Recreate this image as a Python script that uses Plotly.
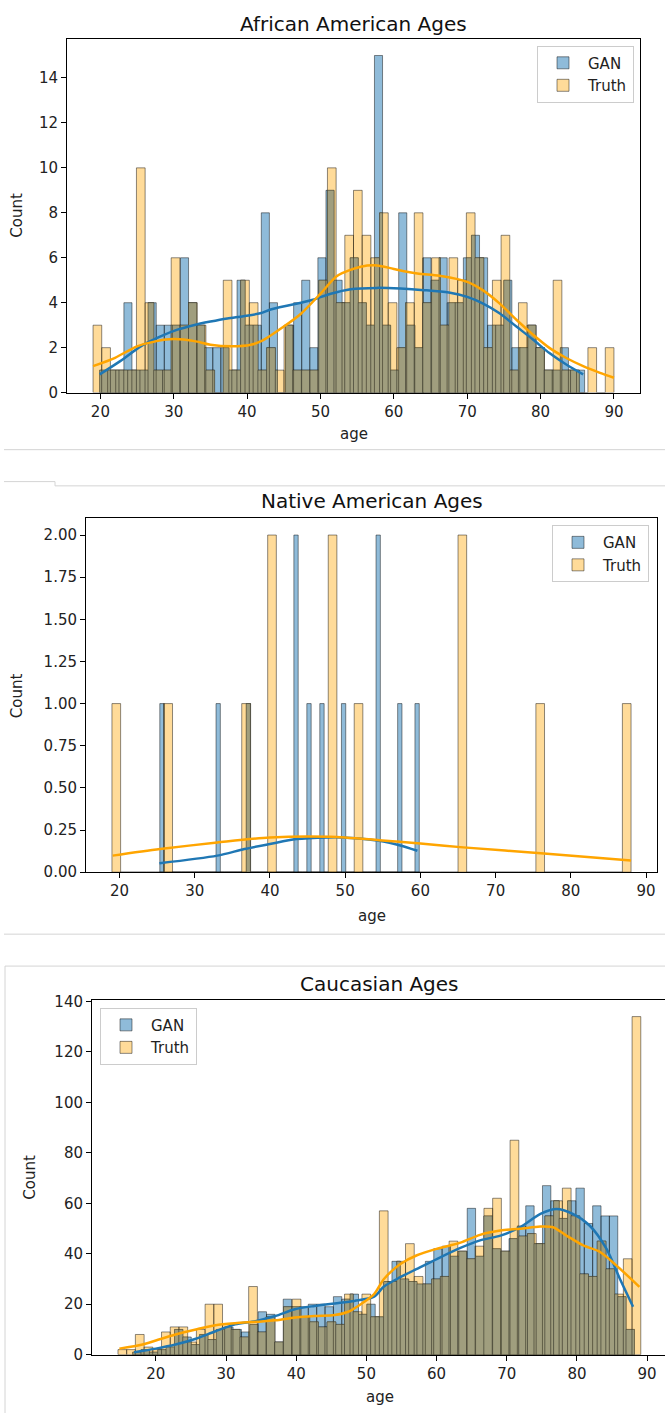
import numpy as np
import plotly.graph_objects as go

W, H = 665, 1422

# ---------------- data ----------------
# Panel 1: African American
aa_truth_range = (19.0, 90.0)
aa_truth_counts = [3, 2, 1, 1, 1, 10, 4, 1, 1, 6,
                   3, 4, 3, 1, 0, 5, 1, 5, 4, 1,
                   2, 1, 3, 1, 1, 1, 5, 10, 4, 7,
                   9, 7, 6, 8, 4, 2, 4, 8, 4, 6,
                   3, 6, 5, 8, 6, 2, 5, 7, 1, 4,
                   3, 2, 1, 5, 1, 1, 0, 2, 0, 2]
aa_gan_range = (19.9, 86.0)
aa_gan_counts = [1, 1, 1, 4, 1, 1, 4, 3, 3, 3,
                 6, 4, 3, 2, 2, 2, 1, 5, 3, 3,
                 8, 4, 0, 3, 4, 5, 2, 6, 9, 5,
                 4, 6, 4, 3, 15, 3, 1, 8, 3, 2,
                 6, 5, 6, 4, 4, 6, 7, 6, 3, 3,
                 5, 2, 2, 3, 2, 1, 1, 2, 1, 1]
aa_kde_truth_age = [19, 22, 25, 27.5, 30, 33, 35, 38, 40.5, 42, 45, 47.3, 50, 52.3, 55.5,
                    57.7, 60, 63.2, 66.2, 70, 72.1, 74.4, 76.7, 79, 81.2, 83.5, 85.8, 88.1, 90]
aa_kde_truth = [1.18, 1.55, 2.06, 2.28, 2.38, 2.28, 2.13, 2.06, 2.13, 2.3, 2.94, 3.5, 4.4, 5.2, 5.6,
                5.66, 5.5, 5.3, 5.2, 4.93, 4.56, 3.97, 3.24, 2.57, 1.99, 1.54, 1.18, 0.88, 0.66]
aa_kde_gan_age = [19.9, 22.7, 25.5, 28.2, 30.5, 32.7, 35, 37.3, 39.5, 41.8, 43.2, 45.9, 48.6, 51.4,
                  54.1, 57.7, 60.9, 64.1, 67.5, 70, 72.1, 74.4, 76.7, 79, 81.2, 83.5, 85.8]
aa_kde_gan = [0.81, 1.4, 2.06, 2.5, 2.8, 3.0, 3.16, 3.3, 3.4, 3.53, 3.7, 3.9, 4.1, 4.4,
              4.6, 4.66, 4.63, 4.56, 4.45, 4.26, 3.97, 3.53, 2.94, 2.35, 1.76, 1.25, 0.81]

# Panel 2: Native American
na_truth_range = (19.0, 88.0)
na_truth_counts = [1, 0, 0, 0, 0, 0, 1, 0, 0, 0,
                   0, 0, 0, 0, 0, 1, 0, 0, 2, 0,
                   0, 0, 0, 0, 0, 2, 0, 0, 1, 0,
                   0, 0, 0, 0, 0, 0, 0, 0, 0, 0,
                   2, 0, 0, 0, 0, 0, 0, 0, 0, 1,
                   0, 0, 0, 0, 0, 0, 0, 0, 0, 1]
na_gan_range = (25.36, 59.85)
na_gan_counts = [1, 0, 0, 0, 0, 0, 0, 0, 0, 0,
                 0, 0, 0, 1, 0, 0, 0, 0, 0, 0,
                 1, 0, 0, 0, 0, 0, 0, 0, 0, 0,
                 0, 2, 0, 0, 1, 0, 0, 1, 0, 0,
                 0, 0, 1, 0, 0, 0, 0, 0, 0, 0,
                 2, 0, 0, 0, 0, 1, 0, 0, 0, 1]
na_kde_truth_age = [19.1, 25.4, 33, 40, 48, 54.5, 60, 65.7, 76, 88]
na_kde_truth = [0.098, 0.137, 0.176, 0.206, 0.21, 0.19, 0.17, 0.147, 0.112, 0.069]
na_kde_gan_age = [25.3, 33, 36.6, 40, 43.5, 47.7, 49.4, 54.5, 57.2, 59.6]
na_kde_gan = [0.053, 0.098, 0.137, 0.167, 0.196, 0.206, 0.206, 0.186, 0.16, 0.127]

# Panel 3: Caucasian
ca_truth_range = (14.6, 89.1)
ca_truth_counts = [2, 2, 8, 3, 2, 9, 11, 11, 5, 10,
                   20, 20, 12, 10, 7, 27, 9, 15, 5, 19,
                   22, 15, 13, 11, 13, 12, 24, 17, 24, 15,
                   57, 29, 37, 44, 31, 28, 30, 31, 45, 41,
                   38, 43, 58, 62, 41, 85, 47, 48, 44, 55,
                   61, 66, 55, 32, 31, 45, 34, 24, 38, 134]
ca_gan_range = (16.7, 88.2)
ca_gan_counts = [1, 2, 1, 2, 3, 10, 7, 4, 8, 6,
                 10, 11, 10, 9, 12, 17, 16, 5, 22, 19,
                 19, 20, 20, 19, 23, 22, 24, 16, 20, 15,
                 29, 37, 30, 29, 28, 37, 42, 43, 39, 41,
                 58, 39, 55, 42, 41, 46, 51, 59, 44, 67,
                 61, 54, 61, 66, 52, 59, 55, 55, 23, 10]
ca_kde_truth_age = [14.8, 18.1, 20, 22.8, 25.7, 28.5, 31.3, 34.2, 37, 39.8, 42.6, 45.5, 47.4, 49.2,
                    51.1, 52.5, 54.9, 57.2, 60.1, 63.4, 66.2, 69.1, 71.9, 74.8, 76.6, 78.5, 80.9,
                    83.3, 85.6, 88.9]
ca_kde_truth = [2.4, 4, 5.6, 8, 10, 11.7, 12.5, 13, 13.6, 14.7, 15.3, 15.7, 17, 20,
                24, 30, 36, 39.4, 42, 44.4, 47.5, 49.2, 49.9, 50.8, 50.5, 47.2, 43.3,
                40.7, 35.4, 26.9]
ca_kde_gan_age = [16.9, 20, 22.8, 25.7, 28.5, 31.3, 34.2, 37, 39.8, 42.6, 45.5, 48.3, 51.1, 52.5,
                  54.9, 57.2, 60.1, 63.4, 66.2, 69.1, 71.9, 74.8, 77.1, 79.4, 81.8, 84.2, 86.1, 88]
ca_kde_gan = [1, 2.4, 4, 6.3, 9.3, 12, 13.3, 15.3, 18, 19.3, 20.3, 21.3, 23, 27,
              30.8, 34, 38, 42.3, 45.3, 47.2, 50.5, 55.8, 57.7, 55.8, 51.2, 42, 30.2, 19]

titles = ["African American Ages", "Native American Ages", "Caucasian Ages"]

# ---------------- styling ----------------
FONT = "DejaVu Sans"
GAN_FILL = "rgba(31,119,180,0.5)"
TRUTH_FILL = "rgba(255,165,0,0.4)"
OVER_FILL = "rgb(160,158,126)"
OVER_EDGE = "rgba(55,55,45,0.45)"
EDGE = "rgba(0,0,0,0.45)"
GAN_LINE = "#1f77b4"
TRUTH_LINE = "#ffa500"


def py(p):
    return 1 - p / H


def px(p):
    return p / W


panels = [
    dict(truth_rng=aa_truth_range, truth=aa_truth_counts, gan_rng=aa_gan_range, gan=aa_gan_counts,
         kt=(aa_kde_truth_age, aa_kde_truth), kg=(aa_kde_gan_age, aa_kde_gan),
         xpx=(67, 640), ypx=(32, 390), xr=(15.45, 93.55), yr=(0, 15.75),
         ytick=list(range(0, 15, 2)), yfmt="d", mirror_y=True),
    dict(truth_rng=na_truth_range, truth=na_truth_counts, gan_rng=na_gan_range, gan=na_gan_counts,
         kt=(na_kde_truth_age, na_kde_truth), kg=(na_kde_gan_age, na_kde_gan),
         xpx=(86, 657), ypx=(517, 875), xr=(15.55, 91.45), yr=(0, 2.1),
         ytick=[0, 0.25, 0.5, 0.75, 1.0, 1.25, 1.5, 1.75, 2.0], yfmt=".2f", mirror_y=True),
    dict(truth_rng=ca_truth_range, truth=ca_truth_counts, gan_rng=ca_gan_range, gan=ca_gan_counts,
         kt=(ca_kde_truth_age, ca_kde_truth), kg=(ca_kde_gan_age, ca_kde_gan),
         xpx=(92, 665), ypx=(1004, 1363), xr=(10.9, 92.55), yr=(0, 140.7),
         ytick=list(range(0, 141, 20)), yfmt="d", mirror_y=False),
]

legend_cfg = [
    dict(x=px(634), y=py(39), xanchor="right", yanchor="top"),
    dict(x=px(649), y=py(524), xanchor="right", yanchor="top"),
    dict(x=px(100), y=py(1012), xanchor="left", yanchor="top"),
]

fig = go.Figure()
layout = dict(width=W, height=H, margin=dict(l=0, r=0, t=0, b=0),
              paper_bgcolor="white", plot_bgcolor="white", barmode="overlay",
              font=dict(family=FONT, size=15, color="#222"))

annotations = []
shapes = []

for k, p in enumerate(panels):
    sfx = "" if k == 0 else str(k + 1)
    xa, ya = "x" + sfx, "y" + sfx
    leg = "legend" + sfx

    t_edges = np.linspace(p["truth_rng"][0], p["truth_rng"][1], len(p["truth"]) + 1)
    g_edges = np.linspace(p["gan_rng"][0], p["gan_rng"][1], len(p["gan"]) + 1)
    t_c = np.array(p["truth"], float)
    g_c = np.array(p["gan"], float)

    fig.add_trace(go.Bar(x=(g_edges[:-1] + g_edges[1:]) / 2, y=g_c, width=np.diff(g_edges),
                         marker=dict(color=GAN_FILL, line=dict(color=EDGE, width=1)),
                         name="GAN", legend=leg, xaxis=xa, yaxis=ya, showlegend=True))
    fig.add_trace(go.Bar(x=(t_edges[:-1] + t_edges[1:]) / 2, y=t_c, width=np.diff(t_edges),
                         marker=dict(color=TRUTH_FILL, line=dict(color=EDGE, width=1)),
                         name="Truth", legend=leg, xaxis=xa, yaxis=ya, showlegend=True))
    # overlap of both histograms
    ox, oy, ow = [], [], []
    for i in range(len(g_c)):
        for j in range(len(t_c)):
            lo = max(g_edges[i], t_edges[j])
            hi = min(g_edges[i + 1], t_edges[j + 1])
            h = min(g_c[i], t_c[j])
            if hi > lo and h > 0:
                ox.append((lo + hi) / 2)
                ow.append(hi - lo)
                oy.append(h)
    fig.add_trace(go.Bar(x=ox, y=oy, width=ow,
                         marker=dict(color=OVER_FILL, line=dict(color=OVER_EDGE, width=1)),
                         showlegend=False, xaxis=xa, yaxis=ya, hoverinfo="skip"))
    fig.add_trace(go.Scatter(x=p["kg"][0], y=p["kg"][1], mode="lines",
                             line=dict(color=GAN_LINE, width=2.5, shape="spline", smoothing=0.8),
                             showlegend=False, xaxis=xa, yaxis=ya))
    fig.add_trace(go.Scatter(x=p["kt"][0], y=p["kt"][1], mode="lines",
                             line=dict(color=TRUTH_LINE, width=2.5, shape="spline", smoothing=0.8),
                             showlegend=False, xaxis=xa, yaxis=ya))

    x0, x1 = p["xpx"]
    y0, y1 = p["ypx"]
    layout["xaxis" + sfx] = dict(domain=[px(x0), min(px(x1), 1.0)], anchor=ya, range=list(p["xr"]),
                                 tickvals=list(range(20, 91, 10)), showgrid=False, zeroline=False,
                                 showline=True, linecolor="black", linewidth=1, mirror=True,
                                 ticks="outside", ticklen=5, tickcolor="black",
                                 ticklabeloverflow="allow",
                                 tickfont=dict(family=FONT, size=15, color="#222"))
    layout["yaxis" + sfx] = dict(domain=[py(y1), py(y0)], anchor=xa, range=list(p["yr"]),
                                 tickvals=p["ytick"], tickformat=p["yfmt"], showgrid=False,
                                 zeroline=False, showline=True, linecolor="black", linewidth=1,
                                 mirror=p["mirror_y"], ticks="outside", ticklen=5, tickcolor="black",
                                 tickfont=dict(family=FONT, size=15, color="#222"))
    lc = legend_cfg[k]
    layout[leg] = dict(x=lc["x"], y=lc["y"], xanchor=lc["xanchor"], yanchor=lc["yanchor"],
                       bgcolor="rgba(255,255,255,0.8)", bordercolor="#cccccc", borderwidth=1,
                       font=dict(family=FONT, size=15, color="#222"), traceorder="normal",
                       itemwidth=40)

title_pos = [((67 + 640) / 2, 17), ((86 + 657) / 2, 500), ((92 + 667) / 2, 988)]
count_pos = [(17, 211), (17, 697), (30, 1184)]
age_pos = [((67 + 640) / 2, 432), ((86 + 657) / 2, 919), (380, 1406)]
for k in range(3):
    annotations.append(dict(text=titles[k], x=px(title_pos[k][0]), y=py(title_pos[k][1]),
                            xref="paper", yref="paper", showarrow=False, xanchor="center",
                            yanchor="middle", font=dict(family=FONT, size=20, color="#111")))
    annotations.append(dict(text="Count", x=px(count_pos[k][0]), y=py(count_pos[k][1]),
                            xref="paper", yref="paper", showarrow=False, textangle=-90,
                            xanchor="center", yanchor="middle",
                            font=dict(family=FONT, size=15, color="#222")))
    annotations.append(dict(text="age", x=px(age_pos[k][0]), y=py(age_pos[k][1]),
                            xref="paper", yref="paper", showarrow=False, xanchor="center",
                            yanchor="middle", font=dict(family=FONT, size=15, color="#222")))

SEP = "#d4d4d4"
seg = [((4, 447.7), (665, 447.7)), ((4, 480), (55, 480)), ((55, 480), (55, 484.3)),
       ((55, 484.3), (665, 484.3)), ((4, 937.7), (665, 937.7)), ((5, 970), (665, 970)),
       ((5, 970), (5, 1422))]
for (a, b) in seg:
    shapes.append(dict(type="line", xref="paper", yref="paper", x0=px(a[0]), y0=py(a[1]),
                       x1=px(b[0]), y1=py(b[1]), line=dict(color=SEP, width=1)))

layout["annotations"] = annotations
layout["shapes"] = shapes
fig.update_layout(**layout)
fig.write_html("out.html", config={"displayModeBar": False},
               post_script="document.body.style.margin='0';document.body.style.overflow='hidden';")
